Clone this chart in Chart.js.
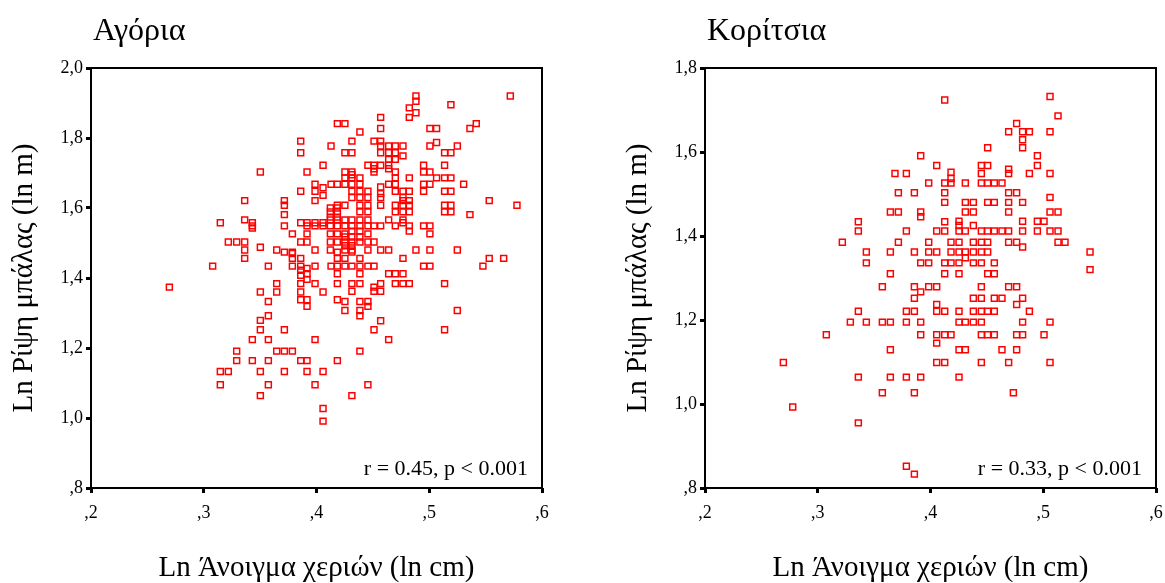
<!DOCTYPE html>
<html><head><meta charset="utf-8">
<script src="https://cdn.jsdelivr.net/npm/chart.js@4.4.1/dist/chart.umd.min.js"></script>
<style>
html,body{margin:0;padding:0;background:#fff;overflow:hidden;width:1165px;height:583px;}
.box{position:absolute;top:0;height:583px;}
</style></head><body>
<div class="box" style="left:0;width:614px"><canvas id="c1" width="614" height="583"></canvas></div>
<div class="box" style="left:614px;width:551px"><canvas id="c2" width="551" height="583"></canvas></div>
<script>
const xTickLabels = [",2", ",3", ",4", ",5", ",6"];
const boysYTickLabels = [",8", "1,0", "1,2", "1,4", "1,6", "1,8", "2,0"];
const girlsYTickLabels = [",8", "1,0", "1,2", "1,4", "1,6", "1,8"];
const boysTitle = "Αγόρια";
const girlsTitle = "Κορίτσια";
const boysStat = "r = 0.45, p < 0.001";
const girlsStat = "r = 0.33, p < 0.001";
const xAxisTitle = "Ln Άνοιγμα χεριών (ln cm)";
const yAxisTitle = "Ln Ρίψη μπάλας (ln m)";

const boysPoints = [
[0.4185,1.841],[0.3860,1.791],[0.3860,1.758],[0.4129,1.777],[0.3502,1.703],[0.3916,1.703],[0.4058,1.722],
[0.3987,1.668],[0.4129,1.668],[0.4185,1.668],[0.4058,1.658],[0.3860,1.648],[0.3987,1.648],[0.4058,1.636],
[0.3987,1.621],[0.3363,1.621],[0.3715,1.621],[0.3715,1.608],[0.4185,1.608],[0.4123,1.600],[0.4185,1.600],
[0.4123,1.589],[0.4185,1.589],[0.4123,1.574],[0.4185,1.574],[0.3715,1.581],[0.3363,1.566],[0.4123,1.566],[0.4185,1.566],
[0.3147,1.558],[0.3431,1.558],[0.3860,1.558],[0.3916,1.558],[0.3987,1.558],[0.4058,1.558],
[0.3431,1.549],[0.3715,1.549],[0.3916,1.549],[0.3987,1.549],[0.4058,1.549],[0.4123,1.549],[0.4185,1.549],
[0.3431,1.543],[0.3786,1.526],[0.3916,1.526],[0.4123,1.526],[0.4185,1.526],
[0.3218,1.503],[0.3292,1.503],[0.3363,1.503],[0.3860,1.503],[0.3916,1.503],[0.4123,1.503],[0.4185,1.503],
[0.3502,1.488],[0.3363,1.480],[0.3647,1.480],[0.3987,1.480],[0.4123,1.480],[0.3715,1.474],[0.3786,1.474],[0.4185,1.474],
[0.3786,1.470],[0.3363,1.456],[0.3786,1.456],[0.3860,1.456],[0.4185,1.456],
[0.3079,1.434],[0.3573,1.434],[0.3786,1.434],[0.3860,1.434],[0.3987,1.434],[0.4129,1.434],[0.4185,1.434],
[0.3916,1.427],[0.3860,1.422],[0.3916,1.412],[0.3860,1.408],[0.4185,1.412],[0.3916,1.396],
[0.3647,1.384],[0.3860,1.384],[0.3987,1.384],[0.4185,1.384],[0.2695,1.374],
[0.3502,1.360],[0.3647,1.360],[0.3860,1.360],[0.4058,1.360],[0.3860,1.338],[0.3916,1.338],[0.4185,1.338],
[0.3573,1.333],[0.3916,1.319],[0.3573,1.292],[0.3502,1.279],[0.3502,1.252],[0.3715,1.252],
[0.3431,1.224],[0.3573,1.224],[0.3987,1.224],[0.3292,1.191],[0.3647,1.191],[0.3715,1.191],[0.3786,1.191],
[0.3292,1.164],[0.3431,1.164],[0.3573,1.164],[0.3860,1.164],[0.3916,1.164],[0.4185,1.164],
[0.3147,1.133],[0.3218,1.133],[0.3502,1.133],[0.3715,1.133],[0.3916,1.133],[0.4058,1.133],
[0.3147,1.095],[0.3573,1.095],[0.3987,1.095],[0.3502,1.064],[0.4058,1.027],[0.4058,0.991],
[0.4252,1.434],[0.4314,1.434],[0.4385,1.434],[0.4456,1.434],[0.4510,1.434],[0.4950,1.434],[0.5006,1.434],[0.5476,1.434],
[0.4385,1.412],[0.4640,1.412],[0.4699,1.412],[0.4767,1.412],
[0.4314,1.384],[0.4385,1.384],[0.4569,1.384],[0.4699,1.384],[0.4767,1.384],[0.4823,1.384],[0.5136,1.384],
[0.4510,1.374],[0.4314,1.362],[0.4510,1.362],[0.4569,1.362],[0.4252,1.333],[0.4385,1.333],[0.4456,1.333],
[0.4456,1.319],[0.4252,1.307],[0.4385,1.307],[0.5249,1.307],[0.4385,1.292],[0.4569,1.278],
[0.4510,1.252],[0.5136,1.252],[0.4640,1.224],[0.4385,1.191],[0.4456,1.095],[0.4314,1.064],
[0.4882,1.920],[0.5719,1.920],[0.4882,1.905],[0.5192,1.895],[0.4823,1.886],[0.4882,1.872],[0.4569,1.859],[0.4823,1.859],
[0.4252,1.841],[0.5417,1.841],[0.4569,1.827],[0.5006,1.827],[0.5065,1.827],[0.5361,1.827],[0.4385,1.817],
[0.4314,1.791],[0.4510,1.791],[0.4569,1.791],[0.5065,1.787],
[0.4569,1.777],[0.4640,1.777],[0.4699,1.777],[0.4767,1.777],[0.5006,1.777],[0.5249,1.777],
[0.4252,1.758],[0.4314,1.758],[0.4569,1.758],[0.4640,1.758],[0.4699,1.758],[0.5136,1.758],[0.5192,1.758],
[0.4767,1.749],[0.4640,1.739],[0.4699,1.739],
[0.4456,1.722],[0.4510,1.722],[0.4569,1.722],[0.4640,1.722],[0.4950,1.722],[0.5136,1.722],[0.4510,1.712],[0.4640,1.712],
[0.4252,1.703],[0.4314,1.703],[0.4510,1.703],[0.4699,1.703],[0.4950,1.703],[0.5006,1.703],[0.4314,1.695],
[0.4252,1.686],[0.4314,1.686],[0.4385,1.686],[0.4699,1.686],[0.4823,1.686],[0.5065,1.686],[0.5136,1.686],[0.5192,1.686],
[0.4252,1.668],[0.4314,1.668],[0.4385,1.668],[0.4640,1.668],[0.4699,1.668],[0.4950,1.668],[0.5006,1.668],[0.5305,1.668],
[0.4569,1.660],
[0.4314,1.648],[0.4385,1.648],[0.4456,1.648],[0.4699,1.648],[0.4767,1.648],[0.4823,1.648],[0.4950,1.648],[0.5136,1.648],[0.5192,1.648],
[0.4569,1.641],[0.4314,1.630],[0.4385,1.630],[0.4456,1.630],[0.4569,1.630],[0.4767,1.630],
[0.4767,1.621],[0.4823,1.621],[0.5532,1.621],
[0.4252,1.608],[0.4385,1.608],[0.4456,1.608],[0.4569,1.608],[0.4699,1.608],[0.4767,1.608],[0.4823,1.608],[0.5136,1.608],[0.5192,1.608],[0.5778,1.608],
[0.4385,1.589],[0.4456,1.589],[0.4699,1.589],[0.4767,1.589],[0.4823,1.589],[0.5136,1.589],[0.5192,1.589],[0.5361,1.581],
[0.4252,1.566],[0.4314,1.566],[0.4385,1.566],[0.4456,1.566],[0.4640,1.566],[0.4767,1.566],[0.4767,1.558],
[0.4252,1.549],[0.4314,1.549],[0.4385,1.549],[0.4456,1.549],[0.4510,1.549],[0.4569,1.549],[0.4699,1.549],[0.4823,1.549],[0.4950,1.549],[0.5006,1.549],
[0.4314,1.534],[0.4385,1.534],[0.4823,1.534],[0.4252,1.526],[0.4456,1.526],[0.5006,1.526],
[0.4252,1.517],[0.4314,1.517],[0.4385,1.517],
[0.4252,1.503],[0.4314,1.503],[0.4385,1.503],[0.4456,1.503],[0.4510,1.503],[0.4252,1.492],[0.4314,1.492],
[0.4252,1.480],[0.4314,1.480],[0.4456,1.480],[0.4569,1.480],[0.4640,1.480],[0.4882,1.480],[0.5006,1.480],[0.5249,1.480],
[0.4314,1.474],[0.4252,1.456],[0.4385,1.456],[0.4767,1.456],[0.5532,1.456],[0.5660,1.456]
];

const girlsPoints = [
[0.4126,1.724],[0.3913,1.591],[0.4055,1.568],[0.3685,1.549],[0.3786,1.549],[0.4182,1.552],[0.4182,1.537],
[0.4182,1.526],[0.3984,1.526],[0.4126,1.526],[0.3715,1.503],[0.3857,1.503],[0.4126,1.503],[0.4126,1.480],
[0.3644,1.457],[0.3715,1.457],[0.3913,1.457],[0.3913,1.446],[0.3360,1.434],[0.4126,1.434],
[0.3360,1.412],[0.3786,1.412],[0.4055,1.412],[0.4126,1.412],[0.3218,1.385],[0.3715,1.385],[0.3984,1.385],[0.4182,1.385],
[0.3431,1.362],[0.3644,1.362],[0.3857,1.362],[0.3984,1.362],[0.4055,1.362],[0.4182,1.362],
[0.3431,1.336],[0.3913,1.336],[0.3984,1.336],[0.4126,1.336],[0.4182,1.336],[0.3644,1.310],[0.4126,1.310],
[0.5060,1.732],[0.5131,1.686],[0.4764,1.668],[0.4693,1.648],[0.4817,1.648],[0.4877,1.648],[0.5060,1.648],
[0.4817,1.629],[0.4507,1.610],[0.4817,1.610],[0.4948,1.591],[0.4451,1.568],[0.4507,1.568],[0.4948,1.568],
[0.4693,1.559],[0.4693,1.549],[0.4877,1.549],[0.5060,1.549],[0.4451,1.549],
[0.4309,1.526],[0.4451,1.526],[0.4507,1.526],[0.4566,1.526],[0.4634,1.526],[0.4693,1.503],[0.4764,1.503],[0.5060,1.492],
[0.4309,1.480],[0.4380,1.480],[0.4507,1.480],[0.4566,1.480],[0.4693,1.480],[0.4817,1.480],
[0.4309,1.457],[0.4380,1.457],[0.4693,1.457],[0.5060,1.457],[0.5131,1.457],
[0.4253,1.435],[0.4817,1.435],[0.4948,1.435],[0.5007,1.435],[0.4253,1.425],[0.4380,1.425],
[0.4253,1.412],[0.4309,1.412],[0.4451,1.412],[0.4507,1.412],[0.4566,1.412],[0.4634,1.412],[0.4693,1.412],[0.4817,1.412],[0.4948,1.412],[0.5060,1.412],[0.5131,1.412],
[0.4253,1.385],[0.4380,1.385],[0.4451,1.385],[0.4507,1.385],[0.4693,1.385],[0.4764,1.385],[0.5131,1.385],[0.5193,1.385],
[0.4817,1.374],[0.4253,1.362],[0.4309,1.362],[0.4380,1.362],[0.4451,1.362],[0.4507,1.362],[0.5415,1.362],
[0.4309,1.348],[0.4253,1.336],[0.4380,1.336],[0.4451,1.336],[0.4566,1.336],
[0.4253,1.310],[0.4507,1.310],[0.4566,1.310],[0.5415,1.320],
[0.3573,1.279],[0.3857,1.279],[0.3984,1.279],[0.4055,1.279],[0.3913,1.267],[0.3857,1.252],[0.4055,1.237],
[0.3360,1.221],[0.3786,1.221],[0.3857,1.221],[0.4055,1.221],[0.4126,1.221],
[0.3289,1.195],[0.3431,1.195],[0.3573,1.195],[0.3644,1.195],[0.3786,1.195],[0.3913,1.195],
[0.3076,1.165],[0.3913,1.165],[0.4055,1.165],[0.4126,1.165],[0.4182,1.165],[0.4055,1.145],[0.3644,1.129],
[0.2695,1.099],[0.4055,1.099],[0.4126,1.099],[0.3360,1.064],[0.3644,1.064],[0.3786,1.064],[0.3913,1.064],
[0.3573,1.027],[0.3857,1.027],[0.2778,0.993],[0.3360,0.955],[0.3786,0.852],[0.3857,0.833],
[0.4451,1.279],[0.4693,1.279],[0.4764,1.279],
[0.4380,1.252],[0.4451,1.252],[0.4566,1.252],[0.4634,1.252],[0.4817,1.252],[0.4764,1.237],
[0.4253,1.221],[0.4380,1.221],[0.4451,1.221],[0.4507,1.221],[0.4566,1.221],[0.4877,1.221],
[0.4253,1.195],[0.4309,1.195],[0.4380,1.195],[0.4451,1.195],[0.4817,1.195],[0.5060,1.195],
[0.4451,1.165],[0.4507,1.165],[0.4566,1.165],[0.4764,1.165],[0.4817,1.165],[0.5007,1.165],
[0.4253,1.129],[0.4309,1.129],[0.4634,1.129],[0.4764,1.129],
[0.4451,1.099],[0.4693,1.099],[0.5060,1.099],[0.4253,1.064],[0.4735,1.027]
];

const FONT = "'Liberation Serif', 'Times New Roman', serif";

const framePlugin = {
  id: 'frameAndText',
  afterDraw(chart, args, opts) {
    const {ctx, chartArea: a} = chart;
    ctx.save();
    ctx.strokeStyle = '#000';
    ctx.lineWidth = 2;
    ctx.strokeRect(a.left, a.top, a.right - a.left, a.bottom - a.top);
    ctx.fillStyle = '#000';
    ctx.font = '32px ' + FONT;
    ctx.textAlign = 'left';
    ctx.textBaseline = 'alphabetic';
    ctx.fillText(opts.title, 93, 40);
    ctx.font = '22px ' + FONT;
    ctx.textAlign = 'right';
    ctx.textBaseline = 'middle';
    ctx.fillText(opts.stat, a.right - 14, a.bottom - 19);
    ctx.restore();
  }
};

function makeChart(id, points, yMax, yLabels, title, stat, padRight) {
  const data = points.map(p => ({x: p[0], y: p[1]}));
  return new Chart(document.getElementById(id), {
    type: 'scatter',
    data: {datasets: [{
      data,
      pointStyle: 'rect',
      pointRadius: 4.2,
      pointHoverRadius: 4.2,
      borderWidth: 1.5,
      borderColor: '#ff0000',
      backgroundColor: 'rgba(0,0,0,0)'
    }]},
    options: {
      responsive: false,
      animation: false,
      devicePixelRatio: 1,
      layout: {padding: {left: 0, top: 68, right: padRight, bottom: 0}},
      plugins: {
        legend: {display: false},
        tooltip: {enabled: false},
        frameAndText: {title, stat}
      },
      scales: {
        x: {
          type: 'linear', min: 0.2, max: 0.6,
          afterFit: s => { s.height = 95; s.paddingLeft = 0; s.paddingRight = 0; },
          border: {display: false},
          grid: {drawOnChartArea: false, drawTicks: true, tickLength: 5, tickWidth: 3, tickColor: '#000', color: '#000'},
          ticks: {stepSize: 0.1, padding: 9, color: '#000', maxRotation: 0, autoSkip: false,
            font: {family: FONT, size: 18},
            callback: (v, i) => xTickLabels[i]},
          title: {display: true, text: xAxisTitle, color: '#000', font: {family: FONT, size: 29, lineHeight: 1.0}, padding: {top: 0, bottom: 0}}
        },
        y: {
          type: 'linear', min: 0.8, max: yMax,
          afterFit: s => { s.width = 91; s.paddingTop = 0; s.paddingBottom = 0; },
          border: {display: false},
          grid: {drawOnChartArea: false, drawTicks: true, tickLength: 5, tickWidth: 3, tickColor: '#000', color: '#000'},
          ticks: {stepSize: 0.2, padding: 3, color: '#000', autoSkip: false,
            font: {family: FONT, size: 18},
            callback: (v, i) => yLabels[i]},
          title: {display: true, text: yAxisTitle, color: '#000', font: {family: FONT, size: 29, lineHeight: 1.0}, padding: {top: 10, bottom: 0}}
        }
      }
    },
    plugins: [framePlugin]
  });
}

makeChart('c1', boysPoints, 2.0, boysYTickLabels, boysTitle, boysStat, 614 - 542);
makeChart('c2', girlsPoints, 1.8, girlsYTickLabels, girlsTitle, girlsStat, 551 - 542);
</script>
</body></html>
